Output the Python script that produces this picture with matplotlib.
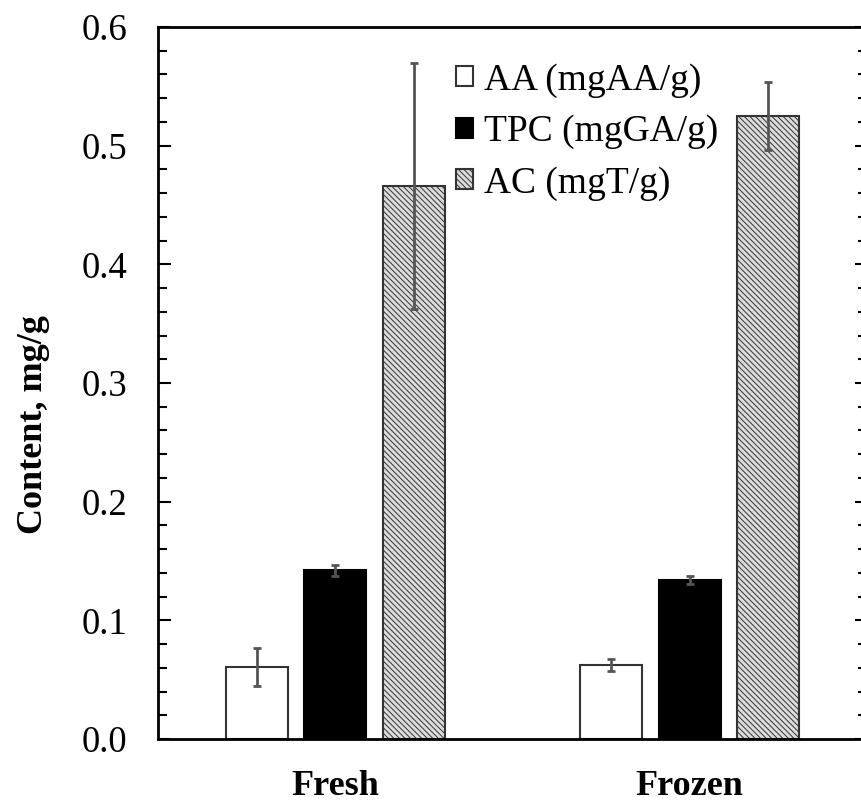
import numpy as np
import matplotlib.pyplot as plt

plt.rcParams['font.family'] = ['Liberation Serif', 'DejaVu Serif']
plt.rcParams['hatch.linewidth'] = 0.7
plt.rcParams['hatch.color'] = '#505050'

# valori
campioni = ['Fresh', 'Frozen']
serie = ['AA (mgAA/g)', 'TPC (mgGA/g)', 'AC (mgT/g)']
aa = [0.061, 0.062]
aa_err = [0.016, 0.005]
tpc = [0.142, 0.134]
tpc_err = [0.005, 0.003]
ac = [0.466, 0.525]
ac_err = [0.104, 0.029]

fig = plt.figure(figsize=(8.61, 8.07), dpi=100)
ax = fig.add_axes([158/861, 1-739/807, (867-158)/861, (739-27)/807])

x = np.arange(len(campioni))
w = 0.175
d = 0.221
err_kw = dict(ecolor='#555555', elinewidth=2, capsize=3, capthick=2)

ax.bar(x-d, aa, w, yerr=aa_err, color='white', edgecolor='#333333', linewidth=1.5,
       label=serie[0], error_kw=err_kw)
ax.bar(x, tpc, w, yerr=tpc_err, color='black', edgecolor='black', linewidth=1.5,
       label=serie[1], error_kw=err_kw)
ax.bar(x+d, ac, w, yerr=ac_err, color='#dcdcdc', edgecolor='#333333', linewidth=1.5,
       hatch='\\\\\\\\\\\\', label=serie[2], error_kw=err_kw)

ax.set_xlim(-0.5, 1.5)
ax.set_ylim(0, 0.6)
ax.set_yticks(np.arange(0, 0.61, 0.1))
ax.set_yticklabels(['%.1f' % v for v in np.arange(0, 0.61, 0.1)], fontsize=26.5)
ax.set_yticks(np.arange(0, 0.601, 0.02), minor=True)
ax.tick_params(axis='y', which='major', direction='in', length=9, width=1.5,
               right=True, pad=22)
ax.tick_params(axis='y', which='minor', direction='in', length=6.5, width=1.5,
               right=True)
ax.set_xticks(x)
ax.set_xticklabels(campioni, fontsize=26, fontweight='bold')
ax.tick_params(axis='x', length=0, pad=22)
ax.set_ylabel('Content, mg/g', fontsize=26, fontweight='bold')
ax.yaxis.set_label_coords(-0.152, 0.441)
for s in ax.spines.values():
    s.set_linewidth(2)

ax.legend(loc='upper left', bbox_to_anchor=(0.383, 0.986), frameon=False, fontsize=27,
          handlelength=0.45, handleheight=0.45, handletextpad=0.3, labelspacing=0.45,
          borderaxespad=0.3)

fig.savefig('out.png', dpi=100)
